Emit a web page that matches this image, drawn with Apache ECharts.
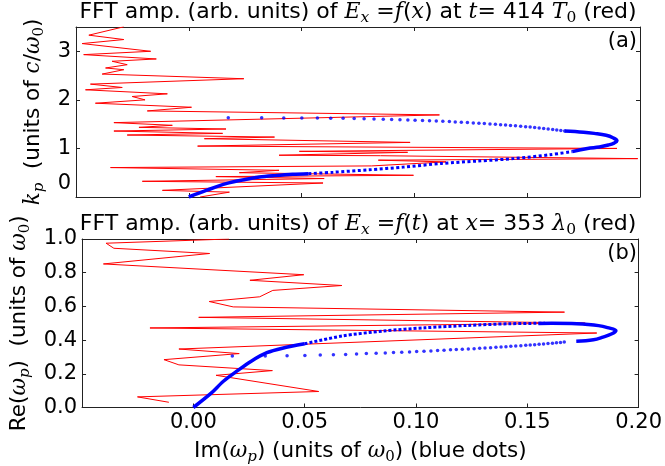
<!DOCTYPE html>
<html><head><meta charset="utf-8">
<script src="https://cdn.jsdelivr.net/npm/echarts@6/dist/echarts.min.js"></script>
<style>html,body{margin:0;padding:0;background:#fff}#c{width:665px;height:466px}</style>
</head><body><div id="c"></div>
<script>
// ---- Panel (a): FFT amplitude vs k_p (red) ----
const redA_x = [-0.0288,-0.0443,-0.0288,-0.0473,-0.0169,-0.0466,-0.0144,-0.0340,-0.0273,-0.0369,-0.0288,-0.0384,0.0244,-0.0436,-0.0295,-0.0458,-0.0095,-0.0251,-0.0194,-0.0414,0.0012,-0.0184,0.1111,-0.0332,-0.0073,-0.0221,0.0165,-0.0332,0.0150,-0.0273,0.0380,0.0069,0.0981,0.0039,0.1898,0.049,0.097,0.040,0.085,0.199,0.084,0.114,0.081,-0.0347,0.040,0.0224,0.0996,0.012,0.060,-0.0206,0.0595,-0.0117,0.018,0.005];
const redA_k = [3.504,3.332,3.242,3.159,3.000,2.931,2.842,2.794,2.724,2.656,2.621,2.531,2.435,2.324,2.255,2.207,2.124,2.069,2.000,1.931,1.848,1.772,1.690,1.531,1.476,1.434,1.400,1.358,1.310,1.276,1.234,1.200,1.124,1.048,1.000,0.940,0.920,0.860,0.850,0.790,0.758,0.723,0.640,0.606,0.550,0.500,0.447,0.420,0.380,0.323,0.288,0.137,0.100,0.000];

// ---- Panel (a): Im(omega_p) vs k_p (blue) ----
const blueA_solidLow_x = [0.0,0.008,0.0165,0.025,0.0313,0.038,0.046,0.053];
const blueA_solidLow_k = [0.0,0.14,0.275,0.36,0.41,0.44,0.468,0.48];
const blueA_dashLow_x = [0.053,0.064,0.08,0.095,0.112,0.128,0.144,0.160,0.170];
const blueA_dashLow_k = [0.48,0.51,0.56,0.615,0.69,0.74,0.79,0.87,0.935];
const blueA_nose_x = [0.1666,0.175,0.1797,0.185,0.188,0.1898,0.1885,0.1860,0.1820,0.1767,0.170];
const blueA_nose_k = [1.36,1.335,1.31,1.27,1.22,1.157,1.11,1.07,1.03,1.0,0.935];
const blueA_dots_x = [0.0175,0.0323,0.0421,0.0501,0.0570,0.0629,0.0684,0.0733,0.0777,0.0821,0.0862,0.0899,0.0936,0.0971,0.1003,0.1036,0.1067,0.1097,0.1126,0.1155,0.1181,0.1208,0.1235,0.1261,0.1286,0.1310,0.1335,0.1359,0.1382,0.1404,0.1426,0.1448,0.1471,0.1493,0.1513,0.1533,0.1553,0.1573,0.1593,0.1613,0.1631,0.1649,0.1666];
const blueA_dots_k = [1.630,1.630,1.628,1.627,1.625,1.622,1.619,1.616,1.612,1.608,1.603,1.598,1.592,1.587,1.582,1.576,1.571,1.565,1.559,1.552,1.546,1.540,1.533,1.526,1.519,1.512,1.505,1.497,1.490,1.482,1.474,1.466,1.457,1.448,1.440,1.431,1.421,1.411,1.401,1.391,1.381,1.371,1.360];

// ---- Panel (b): FFT amplitude vs Re(omega) (red) ----
const redB_x = [0.016,-0.0392,-0.0357,0.0073,-0.0404,0.0496,0.0254,0.0667,0.0357,0.0298,0.0071,0.0179,0.1667,0.0024,0.176,-0.0195,0.1812,-0.0065,0.0206,-0.0132,-0.0065,0.0355,0.0102,0.0563,-0.0251,-0.011];
const redB_re = [1.0,0.975,0.945,0.914,0.852,0.788,0.755,0.724,0.695,0.657,0.629,0.597,0.566,0.535,0.501,0.472,0.442,0.347,0.320,0.284,0.253,0.219,0.191,0.095,0.063,0.031];

// ---- Panel (b): Im(omega_p) vs Re(omega_p) (blue) ----
const blueB_solidLow_x = [0.0,0.008,0.0135,0.02,0.026,0.033,0.040,0.050];
const blueB_solidLow_re = [0.0,0.085,0.156,0.22,0.275,0.325,0.352,0.378];
const blueB_dashUp_x = [0.050,0.0667,0.0855,0.104,0.123,0.142,0.158];
const blueB_dashUp_re = [0.378,0.424,0.454,0.473,0.487,0.497,0.500];
const blueB_nose_x = [0.155,0.161,0.170,0.176,0.182,0.186,0.1898,0.188,0.184,0.1797,0.172];
const blueB_nose_re = [0.499,0.500,0.499,0.494,0.486,0.474,0.456,0.438,0.418,0.402,0.393];
const blueB_dots_x = [0.0175,0.0323,0.0421,0.0501,0.0570,0.0629,0.0684,0.0733,0.0777,0.0821,0.0862,0.0899,0.0936,0.0971,0.1003,0.1036,0.1067,0.1097,0.1126,0.1155,0.1181,0.1208,0.1235,0.1261,0.1286,0.1310,0.1335,0.1359,0.1382,0.1404,0.1426,0.1448,0.1471,0.1493,0.1513,0.1533,0.1553,0.1573,0.1593,0.1613,0.1631,0.1649,0.1666];
const blueB_dots_re = [0.305,0.306,0.307,0.309,0.311,0.313,0.315,0.318,0.320,0.322,0.324,0.326,0.328,0.330,0.332,0.334,0.336,0.338,0.340,0.342,0.344,0.345,0.347,0.349,0.351,0.353,0.355,0.357,0.359,0.361,0.363,0.365,0.367,0.369,0.371,0.373,0.375,0.377,0.380,0.382,0.384,0.386,0.388];

// ---- axes / ticks ----
const xMin = -0.05, xMax = 0.20, xStep = 0.05;
const kMin = 0, kMax = 3.5, kStep = 1;
const kTickLabels = [0,1,2,3];
const reMin = 0, reMax = 1.0, reStep = 0.2;

const zip = (a,b) => a.map((v,i)=>[v,b[i]]);
const FONT = 'DejaVu Sans';
const SERIF = 'DejaVu Serif';
const RED = '#ff0000', BLUE = '#0000ff';
const FS = 21, FSS = 15;

function richSet(fs, fss) {
  return {
    n: {fontFamily: FONT, fontWeight: 'normal', fontSize: fs, color: '#000', lineHeight: fs + 6},
    i: {fontFamily: SERIF, fontWeight: 'normal', fontStyle: 'italic', fontSize: fs, color: '#000', lineHeight: fs + 6},
    s: {fontFamily: SERIF, fontWeight: 'normal', fontStyle: 'italic', fontSize: fss, color: '#000', lineHeight: fss, verticalAlign: 'bottom'},
    u: {fontFamily: SERIF, fontWeight: 'normal', fontSize: fss, color: '#000', lineHeight: fss, verticalAlign: 'bottom'}
  };
}
const richTitle = richSet(22, 15.5);
const richName = richSet(21.5, 15);

const frameLine = {show: true, onZero: false, lineStyle: {color: '#222', width: 1}};
const tickIn = {show: true, inside: true, length: 4, lineStyle: {color: '#222'}};

function xAx(grid, pos, labels, extra) {
  return Object.assign({
    type: 'value', gridIndex: grid, position: pos, min: xMin, max: xMax, interval: xStep,
    axisLine: frameLine, axisTick: tickIn, splitLine: {show: false},
    axisLabel: labels ? {
      show: true, fontFamily: FONT, fontSize: FS, color: '#000', margin: 5,
      formatter: v => (v < -0.001 ? '' : v.toFixed(2))
    } : {show: false}
  }, extra || {});
}
function yAx(grid, pos, min, max, step, labels, extra) {
  return Object.assign({
    type: 'value', gridIndex: grid, position: pos, min: min, max: max, interval: step,
    axisLine: frameLine, axisTick: tickIn, splitLine: {show: false},
    axisLabel: labels || {show: false}
  }, extra || {});
}

const option = {
  animation: false,
  backgroundColor: '#fff',
  title: [
    {text: '{n|FFT amp. (arb. units) of }{i|E}{s|x}{n| =}{i|f}{n|(}{i|x}{n|) at }{i|t}{n|= 414 }{i|T}{u|0}{n| (red)}',
     left: 358, textAlign: 'center', top: -2, padding: 0, textStyle: {fontWeight: 'normal', rich: richTitle}},
    {text: '{n|FFT amp. (arb. units) of }{i|E}{s|x}{n| =}{i|f}{n|(}{i|t}{n|) at }{i|x}{n|= 353 }{i|λ}{u|0}{n| (red)}',
     left: 358, textAlign: 'center', top: 210, padding: 0, textStyle: {fontWeight: 'normal', rich: richTitle}},
    {text: '(a)', right: 28, top: 31, padding: 0, textStyle: {fontFamily: FONT, fontSize: FS, fontWeight: 'normal', color: '#000'}},
    {text: '(b)', right: 28, top: 243, padding: 0, textStyle: {fontFamily: FONT, fontSize: FS, fontWeight: 'normal', color: '#000'}}
  ],
  grid: [
    {left: 76, right: 25, top: 27, height: 170},
    {left: 76, right: 25, top: 239, height: 169}
  ],
  xAxis: [
    xAx(0, 'bottom', false),
    xAx(0, 'top', false),
    xAx(1, 'bottom', true, {
      name: '{n|Im(}{i|ω}{s|p}{n|) (units of }{i|ω}{u|0}{n|) (blue dots)}',
      nameLocation: 'middle', nameGap: 30, nameTextStyle: {rich: richName}
    }),
    xAx(1, 'top', false)
  ],
  yAxis: [
    yAx(0, 'left', kMin, kMax, kStep, {
      show: true, fontFamily: FONT, fontSize: FS, color: '#000', margin: 5,
      formatter: v => (kTickLabels.indexOf(v) < 0 ? '' : (v === 0 ? '{z|0}' : String(v))),
      rich: {z: {fontFamily: FONT, fontSize: FS, color: '#000', padding: [0, 0, 26, 0]}}
    }, {
      name: '{i|k}{s|p}{n|  (units of }{i|c}{n|/}{i|ω}{u|0}{n|)}',
      nameLocation: 'middle', nameRotate: 90, nameGap: 26, nameTextStyle: {rich: richName}
    }),
    yAx(0, 'right', kMin, kMax, kStep, null),
    yAx(1, 'left', reMin, reMax, reStep, {
      show: true, fontFamily: FONT, fontSize: FS, color: '#000', margin: 5,
      formatter: v => v.toFixed(1)
    }, {
      name: '{n|Re(}{i|ω}{s|p}{n|)  (units of }{i|ω}{u|0}{n|)}',
      nameLocation: 'middle', nameRotate: 90, nameGap: 48, nameTextStyle: {rich: richName}
    }),
    yAx(1, 'right', reMin, reMax, reStep, null)
  ],
  series: [
    {type: 'line', xAxisIndex: 0, yAxisIndex: 0, data: zip(redA_x, redA_k), symbol: 'none',
     lineStyle: {color: RED, width: 1}, z: 2},
    {type: 'line', xAxisIndex: 0, yAxisIndex: 0, data: zip(blueA_solidLow_x, blueA_solidLow_k), symbol: 'none', smooth: 0.3,
     lineStyle: {color: BLUE, width: 3.5}, z: 3},
    {type: 'line', xAxisIndex: 0, yAxisIndex: 0, data: zip(blueA_dashLow_x, blueA_dashLow_k), symbol: 'none', smooth: 0.3,
     lineStyle: {color: BLUE, width: 3, type: [3, 2.5]}, z: 3},
    {type: 'line', xAxisIndex: 0, yAxisIndex: 0, data: zip(blueA_nose_x, blueA_nose_k), symbol: 'none', smooth: 0.4,
     lineStyle: {color: BLUE, width: 3.5}, z: 3},
    {type: 'scatter', xAxisIndex: 0, yAxisIndex: 0, data: zip(blueA_dots_x, blueA_dots_k), symbolSize: 3.5,
     itemStyle: {color: BLUE}, z: 3},

    {type: 'line', xAxisIndex: 2, yAxisIndex: 2, data: zip(redB_x, redB_re), symbol: 'none',
     lineStyle: {color: RED, width: 1}, z: 2},
    {type: 'line', xAxisIndex: 2, yAxisIndex: 2, data: zip(blueB_solidLow_x, blueB_solidLow_re), symbol: 'none', smooth: 0.3,
     lineStyle: {color: BLUE, width: 3.5}, z: 3},
    {type: 'line', xAxisIndex: 2, yAxisIndex: 2, data: zip(blueB_dashUp_x, blueB_dashUp_re), symbol: 'none', smooth: 0.3,
     lineStyle: {color: BLUE, width: 3, type: [3, 2]}, z: 3},
    {type: 'line', xAxisIndex: 2, yAxisIndex: 2, data: zip(blueB_nose_x, blueB_nose_re), symbol: 'none', smooth: 0.4,
     lineStyle: {color: BLUE, width: 3.5}, z: 3},
    {type: 'scatter', xAxisIndex: 2, yAxisIndex: 2, data: zip(blueB_dots_x, blueB_dots_re), symbolSize: 3.5,
     itemStyle: {color: BLUE}, z: 3}
  ]
};
const chart = echarts.init(document.getElementById('c'), null, {renderer: 'canvas'});
chart.setOption(option);
</script></body></html>
